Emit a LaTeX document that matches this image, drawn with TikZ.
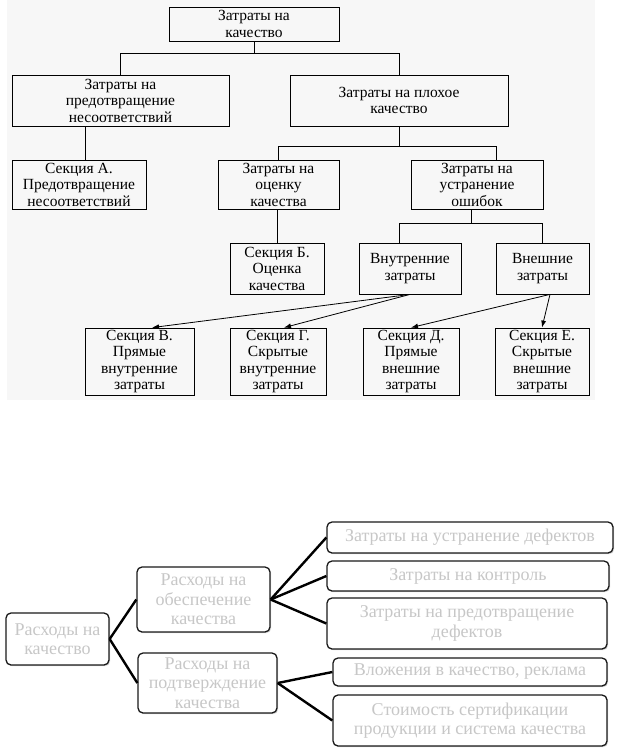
\documentclass[tikz,border=0pt]{standalone}
\usepackage{fontspec}
\setmainfont{Liberation Serif}
\usetikzlibrary{arrows.meta,shadows}

\begin{document}
\begin{tikzpicture}[x=1pt,y=-1pt,
  box/.style={draw,line width=0.8pt,align=center,inner sep=0pt,font=\fontsize{15.5}{16.5}\selectfont},
  link/.style={line width=0.8pt},
  arr/.style={line width=0.8pt,-{Latex[length=7pt,width=5pt]}},
  rbox/.style={draw=black!90,line width=1.3pt,rounded corners=5pt,fill=white,align=center,inner sep=0pt,
    text=black!22,font=\fontsize{18}{19.5}\selectfont,
    drop shadow={shadow xshift=1.2pt,shadow yshift=-1.2pt,opacity=0.3}},
  bar/.style={line width=2.4pt}]
  \useasboundingbox (0,0) rectangle (618,754);
  \fill[white] (0,0) rectangle (618,754);
  \fill[black!3] (7,0) rectangle (595,400);

  \node[box,minimum width=170pt,minimum height=34pt] (top) at (254,24) {Затраты на\\качество};
  \node[box,minimum width=217pt,minimum height=51pt] (predotv) at (120.5,100.5) {Затраты на\\предотвращение\\несоответствий};
  \node[box,minimum width=218pt,minimum height=51pt] (plokh) at (399,100.5) {Затраты на плохое\\качество};
  \node[box,minimum width=134pt,minimum height=49pt] (sekA) at (79,184.5) {Секция А.\\Предотвращение\\несоответствий};
  \node[box,minimum width=121pt,minimum height=49pt] (ocenka) at (278.5,184.5) {Затраты на\\оценку\\качества};
  \node[box,minimum width=132pt,minimum height=49pt] (ustr) at (477,184.5) {Затраты на\\устранение\\ошибок};
  \node[box,minimum width=94pt,minimum height=51pt] (sekB) at (277,268.5) {Секция Б.\\Оценка\\качества};
  \node[box,minimum width=102pt,minimum height=51pt] (vnutr) at (410,268.5) {Внутренние\\затраты};
  \node[box,minimum width=93pt,minimum height=51pt] (vnesh) at (542.5,268.5) {Внешние\\затраты};
  \node[box,minimum width=109pt,minimum height=67pt] (sekV) at (139.5,361.5) {Секция В.\\Прямые\\внутренние\\затраты};
  \node[box,minimum width=96pt,minimum height=67pt] (sekG) at (278,361.5) {Секция Г.\\Скрытые\\внутренние\\затраты};
  \node[box,minimum width=96pt,minimum height=67pt] (sekD) at (411,361.5) {Секция Д.\\Прямые\\внешние\\затраты};
  \node[box,minimum width=94pt,minimum height=67pt] (sekE) at (542,361.5) {Секция Е.\\Скрытые\\внешние\\затраты};

  \draw[link] (top.south) -- ++(0,12) -| (predotv.north);
  \draw[link] (top.south) -- ++(0,12) -| (plokh.north);
  \draw[link] ([xshift=6pt]sekA.north) -- ([xshift=6pt]sekA.north |- predotv.south);
  \draw[link] (plokh.south) -- ++(0,20) -| (ocenka.north);
  \draw[link] (plokh.south) -- ++(0,20) -| ([xshift=19pt]ustr.north);
  \draw[link] (sekB.north) -- (sekB.north |- ocenka.south);
  \draw[link] ([xshift=-6pt]ustr.south) -- ++(0,14) -| ([xshift=-11pt]vnutr.north);
  \draw[link] ([xshift=-6pt]ustr.south) -- ++(0,14) -| (vnesh.north);
  \draw[arr] (vnutr.south) -- ([xshift=12.5pt]sekV.north);
  \draw[arr] (vnutr.south) -- ([xshift=6pt]sekG.north);
  \draw[arr] ([xshift=7.5pt]vnesh.south) -- (sekD.north);
  \draw[arr] ([xshift=7.5pt]vnesh.south) -- (sekE.north);

  \node[rbox,minimum width=103pt,minimum height=52pt] (root) at (57.5,639) {Расходы на\\качество};
  \node[rbox,minimum width=133pt,minimum height=65pt] (obesp) at (203.5,599.5) {Расходы на\\обеспечение\\качества};
  \node[rbox,minimum width=139pt,minimum height=60pt] (podtv) at (207.5,683) {Расходы на\\подтверждение\\качества};
  \node[rbox,minimum width=286pt,minimum height=31pt] (ustrD) at (470,537.5) {Затраты на устранение дефектов};
  \node[rbox,minimum width=282pt,minimum height=30pt] (kontr) at (468,576) {Затраты на контроль};
  \node[rbox,minimum width=280pt,minimum height=51pt] (predD) at (467,623.5) {Затраты на предотвращение\\дефектов};
  \node[rbox,minimum width=274pt,minimum height=28pt] (vlozh) at (470,672) {Вложения в качество, реклама};
  \node[rbox,minimum width=274pt,minimum height=51pt] (stoim) at (470,720.5) {Стоимость сертификации\\продукции и система качества};

  \draw[bar] (root.east) -- (obesp.west);
  \draw[bar] (root.east) -- (podtv.west);
  \draw[bar] (obesp.east) -- (ustrD.west);
  \draw[bar] (obesp.east) -- (kontr.west);
  \draw[bar] (obesp.east) -- (predD.west);
  \draw[bar] (podtv.east) -- (vlozh.west);
  \draw[bar] (podtv.east) -- (stoim.west);
\end{tikzpicture}
\end{document}
